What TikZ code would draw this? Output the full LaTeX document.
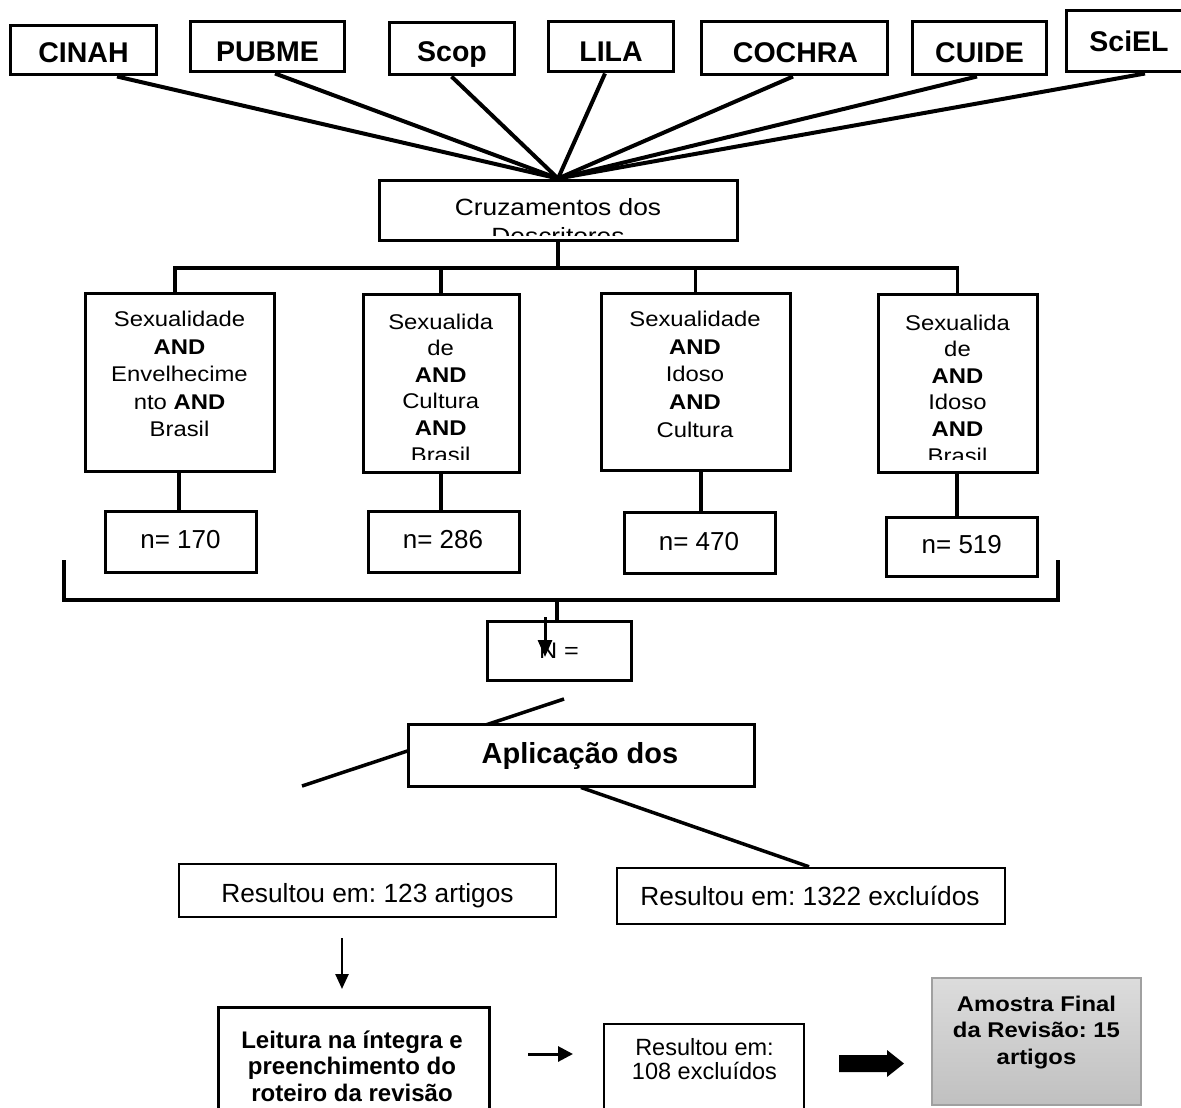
\documentclass[tikz,border=0pt]{standalone}
\usepackage{fontspec}
\setmainfont{Liberation Sans}
\newfontfamily\widefont{Liberation Sans}[FakeStretch=1.12]
\usetikzlibrary{arrows.meta,calc}
\definecolor{gtop}{RGB}{220,220,220}
\definecolor{gbot}{RGB}{192,192,192}
\definecolor{gborder}{RGB}{160,160,160}
\frenchspacing
\begin{document}
\frenchspacing
\begin{tikzpicture}[x=1pt,y=-1pt,
  box/.style={draw, line width=3pt, inner sep=0pt, fill=white},
  thinbox/.style={draw, line width=2.5pt, inner sep=0pt, fill=white},
  fan/.style={line width=4pt},
  conn/.style={line width=3.5pt},
  txt/.style={inner sep=0pt, align=center},
  dbtxt/.style={txt, anchor=base, font=\bfseries\fontsize{28.5}{34}\selectfont},
  qtxt/.style={txt, anchor=base, font=\widefont\fontsize{21.3}{#1}\selectfont},
  ntxt/.style={txt, anchor=base, font=\fontsize{26}{30}\selectfont},
]
\useasboundingbox (0,0) rectangle (1181,1108);
\fill[white] (0,0) rectangle (1181,1108);

% ---------- database boxes ----------
\node[box, minimum width=146pt, minimum height=49pt] (cinah) at (83,50.5) {};
\node[box, minimum width=154pt, minimum height=50pt] (pubme) at (267,47) {};
\node[box, minimum width=125pt, minimum height=52pt] (scop) at (451.5,49) {};
\node[box, minimum width=125pt, minimum height=50pt] (lila) at (610.5,47) {};
\node[box, minimum width=186pt, minimum height=53pt] (cochra) at (794,48.5) {};
\node[box, minimum width=134pt, minimum height=53pt] (cuide) at (979,48.5) {};
\node[box, minimum width=126pt, minimum height=61pt] (sciel) at (1129,41.5) {};
\node[dbtxt] (cinahT) at (83.5,63) {CINAH};
\node[dbtxt] (pubmeT) at (267.5,62) {PUBME};
\node[dbtxt] (scopT) at (452,62) {Scop};
\node[dbtxt] (lilaT) at (611,62) {LILA};
\node[dbtxt] (cochraT) at (795.5,62.5) {COCHRA};
\node[dbtxt] (cuideT) at (979.5,63) {CUIDE};
\node[dbtxt] (scielT) at (1129,52) {SciEL};

% ---------- crossing box ----------
\node[box, minimum width=358pt, minimum height=60pt] (cruz) at (558,210) {};
\begin{scope}
  \clip (381,182) rectangle (735,235);
  \node[txt, anchor=base, font=\widefont\fontsize{23.5}{29}\selectfont] (cruzT) at (558,244) {Cruzamentos dos\\Descritores};
\end{scope}

\draw[fan] ($(cinah.south)+(34,0)$) -- (cruz.north);
\draw[fan] ($(pubme.south)+(8,0)$) -- (cruz.north);
\draw[fan] (scop.south) -- (cruz.north);
\draw[fan] ($(lila.south)+(-5.5,0)$) -- (cruz.north);
\draw[fan] ($(cochra.south)+(-1,0)$) -- (cruz.north);
\draw[fan] ($(cuide.south)+(-2,0)$) -- (cruz.north);
\draw[fan] ($(sciel.south)+(16,0)$) -- (cruz.north);

% ---------- query boxes ----------
\node[box, minimum width=189pt, minimum height=178pt] (q1) at (179.5,382) {};
\node[box, minimum width=156pt, minimum height=178pt] (q2) at (441,383) {};
\node[box, minimum width=189pt, minimum height=177pt] (q3) at (695.5,381.5) {};
\node[box, minimum width=159pt, minimum height=178pt] (q4) at (957.5,383) {};

\node[qtxt=27.5] (q1T) at (179.5,436.7) {Sexualidade\\\textbf{AND}\\Envelhecime\\nto \textbf{AND}\\Brasil};
\begin{scope}
  \clip (365,296) rectangle (517,459);
  \node[qtxt=26.6] (q2T) at (440.7,462) {Sexualida\\de\\\textbf{AND}\\Cultura\\\textbf{AND}\\Brasil};
\end{scope}
\node[qtxt=27.7] (q3T) at (695,437.3) {Sexualidade\\\textbf{AND}\\Idoso\\\textbf{AND}\\Cultura};
\begin{scope}
  \clip (880,296) rectangle (1035,459);
  \node[qtxt=26.6] (q4T) at (957.5,463) {Sexualida\\de\\\textbf{AND}\\Idoso\\\textbf{AND}\\Brasil};
\end{scope}

\coordinate (hub) at (558,268);
\draw[conn] (cruz.south) -- (hub);
\draw[conn] ($(q1.north)+(-4.5,0)$) |- (hub) -| (q4.north);
\draw[conn] (q2.north) -- (q2.north |- hub);
\draw[conn] (q3.north) -- (q3.north |- hub);

% ---------- n boxes ----------
\node[box, minimum width=151pt, minimum height=61pt] (n1) at (180.5,541.5) {};
\node[box, minimum width=151pt, minimum height=61pt] (n2) at (443.5,541.5) {};
\node[box, minimum width=151pt, minimum height=61pt] (n3) at (699.5,542.5) {};
\node[box, minimum width=151pt, minimum height=59pt] (n4) at (961.5,546.5) {};
\node[ntxt] (n1T) at (180.5,548) {n= 170};
\node[ntxt] (n2T) at (443,548) {n= 286};
\node[ntxt] (n3T) at (699,550) {n= 470};
\node[ntxt] (n4T) at (961.8,553) {n= 519};
\draw[conn] ($(n1.north)+(-1.5,0)$) -- ($(n1.north |- q1.south)+(-1.5,0)$);
\draw[conn] ($(n2.north)+(-2.5,0)$) -- ($(n2.north |- q2.south)+(-2.5,0)$);
\draw[conn] ($(n3.north)+(1.5,0)$) -- ($(n3.north |- q3.south)+(1.5,0)$);
\draw[conn] ($(n4.north)+(-4.5,0)$) -- ($(n4.north |- q4.south)+(-4.5,0)$);

% ---------- bracket and N box ----------
\coordinate (bl) at (64,560);
\coordinate (br) at (1058,560);
\draw[conn] (bl) -- ++(0,40) -| (br);
\node[box, minimum width=144pt, minimum height=59pt] (nbox) at (559,650.5) {};
\node[txt, anchor=base, font=\widefont\fontsize{22.5}{26}\selectfont] (nboxT) at (559,658) {N =};
\draw[line width=4.5pt] ($(nbox.north)+(-2,0)$) -- ++(0,-21);
\coordinate (na1) at (545,617);
\coordinate (na2) at (545,657);
\draw[line width=3pt, -{Triangle[length=17pt,width=14pt]}] (na1) -- (na2);

% ---------- application box ----------
\coordinate (ap1) at (564,699);
\coordinate (ap2) at (302,786);
\draw[conn] (ap1) -- (ap2);
\node[box, minimum width=346pt, minimum height=62pt] (apl) at (581,755) {};
\begin{scope}
  \clip (410,726) rectangle (752,768);
  \node[txt, anchor=base, font=\bfseries\fontsize{29}{34}\selectfont] (aplT) at (580,763) {Aplicação dos};
\end{scope}

% ---------- results ----------
\node[thinbox, minimum width=377pt, minimum height=53pt] (res) at (367.5,890.5) {};
\node[txt, anchor=base, font=\fontsize{26.3}{30}\selectfont] (resT) at (367.5,902) {Resultou em: 123 artigos};
\node[thinbox, minimum width=388pt, minimum height=56pt] (exc) at (811,896) {};
\node[txt, anchor=base, font=\fontsize{26.3}{30}\selectfont] (excT) at (810,905) {Resultou em: 1322 excluídos};
\draw[conn] (apl.south) -- ($(exc.north)+(-2,0)$);

\coordinate (d1) at (342,938);
\coordinate (d2) at (342,989);
\draw[line width=2.5pt, -{Triangle[length=15pt,width=13pt]}] (d1) -- (d2);

\node[box, minimum width=271pt, minimum height=119pt] (leit) at (353.5,1066.5) {};
\node[txt, anchor=base, font=\bfseries\fontsize{24}{26.5}\selectfont] (leitT) at (352,1101.3) {Leitura na íntegra e\\preenchimento do\\roteiro da revisão};

\coordinate (s1) at (528,1054);
\coordinate (s2) at (573,1054);
\draw[line width=3pt, -{Triangle[length=15pt,width=15pt]}] (s1) -- (s2);

\node[thinbox, minimum width=200pt, minimum height=96pt] (exc2) at (704,1072) {};
\node[txt, anchor=base, font=\fontsize{23.5}{24.5}\selectfont] (exc2T) at (704.5,1079.5) {Resultou em:\\108 excluídos};

\coordinate (ba1) at (839,1063.5);
\coordinate (ba2) at (904,1063.5);
\fill ($(ba1)+(0,-8.5)$) -- ($(ba2)+(-17,-8.5)$) -- ($(ba2)+(-17,-13.5)$) -- (ba2)
  -- ($(ba2)+(-17,13.5)$) -- ($(ba2)+(-17,8.5)$) -- ($(ba1)+(0,8.5)$) -- cycle;

\node[draw=gborder, line width=1.5pt, top color=gtop, bottom color=gbot, inner sep=0pt,
  minimum width=209pt, minimum height=127pt] (final) at (1036.5,1041.5) {};
\node[txt, anchor=base, font=\widefont\bfseries\fontsize{21.3}{26.5}\selectfont] (finalT) at (1036.5,1064) {Amostra Final\\da Revisão: 15\\artigos};
\end{tikzpicture}
\end{document}
